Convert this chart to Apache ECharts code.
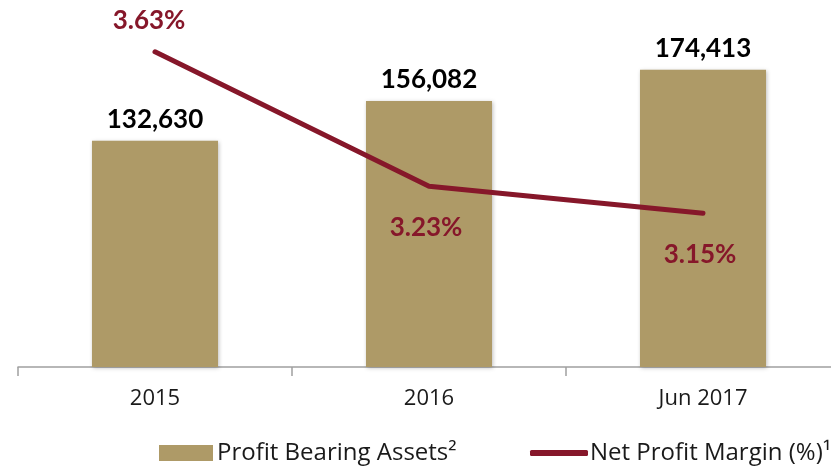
<!DOCTYPE html>
<html>
<head>
<meta charset="utf-8">
<script src="https://cdn.jsdelivr.net/npm/echarts@6/dist/echarts.min.js"></script>
<style>
  html,body{margin:0;padding:0;background:#fff;}
  #chart{width:831px;height:466px;}
</style>
</head>
<body>
<div id="chart"></div>
<script>
const categories = ['2015', '2016', 'Jun 2017']
const assets = [132630, 156082, 174413]
const margin = [3.63, 3.23, 3.15]
const marginLabelPos = ['top', 'bottom', 'bottom']

const gold = '#ae9a67'
const wine = '#86172a'
const font = 'Lato'
const legendFont = 'Open Sans'

let chart = echarts.init(document.getElementById('chart'))

let option = {
  animation: false,
  textStyle: {fontFamily: font},
  grid: {left: 18, width: 822, top: 26, bottom: 99, containLabel: false, outerBoundsMode: 'none'},
  legend: [{
    left: 159, top: 441, padding: 0, itemGap: 4,
    itemWidth: 54, itemHeight: 16,
    textStyle: {fontFamily: legendFont, fontSize: 24, color: '#1a1a1a', padding: [0, 0, 0, -1]},
    data: [{name: 'Profit Bearing Assets²', icon: 'rect'}]
  }, {
    left: 530, top: 441, padding: 0,
    itemWidth: 58, itemHeight: 6,
    textStyle: {fontFamily: legendFont, fontSize: 24, color: '#1a1a1a', padding: [0, 0, 0, -3]},
    data: [{name: 'Net Profit Margin (%)¹', icon: 'roundRect', itemStyle: {color: wine}}]
  }],
  xAxis: [{
    type: 'category',
    data: categories,
    axisLine: {lineStyle: {color: '#a0a0a0', width: 1.5}},
    axisTick: {show: true, length: 9, lineStyle: {color: '#a0a0a0', width: 1.5}},
    axisLabel: {fontFamily: legendFont, fontSize: 22, color: '#1a1a1a', margin: 21}
  }],
  yAxis: [{
    type: 'value', min: 0, max: 200000,
    show: false, splitLine: {show: false}
  }, {
    type: 'value', min: 2.6925, max: 3.7068,
    show: false, splitLine: {show: false}
  }],
  series: [{
    name: 'Profit Bearing Assets²',
    type: 'bar',
    data: assets,
    barWidth: '46%',
    itemStyle: {color: gold, shadowColor: 'rgba(0,0,0,0.25)', shadowBlur: 4, shadowOffsetX: 1, shadowOffsetY: 1},
    label: {
      show: true, position: 'top', distance: 8,
      fontFamily: font, fontWeight: 'bold', fontSize: 26, color: '#000',
      formatter: p => p.value.toLocaleString('en-US')
    }
  }, {
    name: 'Net Profit Margin (%)¹',
    type: 'line',
    yAxisIndex: 1,
    data: margin.map((v, i) => ({
      value: v,
      label: {show: true, position: marginLabelPos[i], distance: i === 0 ? 18 : 28, offset: [i === 0 ? -6 : -3, 0]}
    })),
    symbol: 'circle',
    symbolSize: 1,
    showSymbol: true,
    lineStyle: {color: wine, width: 5, cap: 'round'},
    itemStyle: {color: wine},
    label: {
      show: true,
      fontFamily: font, fontWeight: 'bold', fontSize: 26, color: wine,
      formatter: p => p.value.toFixed(2) + '%'
    }
  }]
}

chart.setOption(option)
</script>
</body>
</html>
